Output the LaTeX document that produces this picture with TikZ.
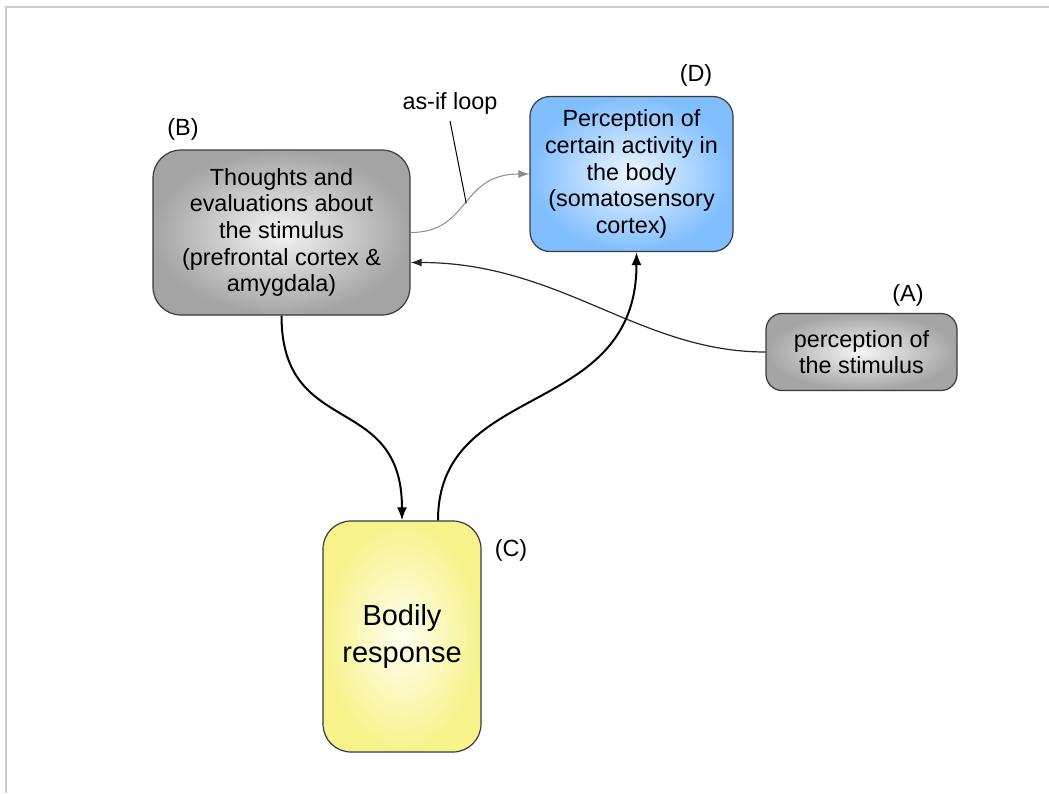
\documentclass[tikz,border=0pt]{standalone}
\usepackage{fontspec}
\setmainfont{Liberation Sans}
\usepackage{xcolor}
\usetikzlibrary{arrows.meta, positioning}
\definecolor{boxline}{HTML}{3A3A3A}
\definecolor{greyin}{HTML}{F4F4F4}
\definecolor{greyout}{HTML}{A4A4A4}
\definecolor{bluein}{HTML}{EEF6FF}
\definecolor{blueout}{HTML}{80BEFF}
\definecolor{yellowin}{HTML}{FFFFF2}
\definecolor{yellowout}{HTML}{F7F28A}
\definecolor{frame}{HTML}{CCCCCC}
\tikzstyle{greybox} = [
rectangle,
rounded corners=14pt,
draw=boxline,
line width=0.6pt,
inner color=greyin,
outer color=greyout,
align=center,
inner sep=0pt,
font=\fontsize{11.7}{13.3}\selectfont
]
\tikzstyle{bluebox} = [
greybox,
rounded corners=10pt,
inner color=bluein,
outer color=blueout
]
\tikzstyle{yellowbox} = [
greybox,
inner color=yellowin,
outer color=yellowout,
font=\fontsize{14.5}{18.5}\selectfont
]
\tikzstyle{tag} = [
font=\fontsize{11.7}{13.3}\selectfont
]
\tikzstyle{arrow} = [
line width=1pt,
-{Latex[length=6.5pt,width=5pt]},
draw=black
]
\tikzstyle{thinarrow} = [
line width=0.6pt,
-{Latex[length=5.5pt,width=4pt]},
draw=black!85
]
\tikzstyle{looparrow} = [
line width=0.5pt,
-{Latex[length=5.5pt,width=4pt]},
draw=black!45
]
\tikzstyle{pointer} = [
line width=0.5pt,
draw=black
]
\tikzstyle{frameline} = [
line width=1pt,
draw=frame
]

\begin{document}
\begin{tikzpicture}[x=0.5pt, y=-0.5pt]
			\useasboundingbox (0,0) rectangle (1049,793);
			\draw [frameline] (6,793) -- (6,7) -- (1049,7);
			
			\node (nB) [greybox, minimum width=128.5pt, minimum height=82.5pt] at (281.5,232.5) {Thoughts and\\evaluations about\\the stimulus\\(prefrontal cortex \&\\amygdala)};
			
			\node (nD) [bluebox, minimum width=101.5pt, minimum height=77.5pt] at (631.5,174) {Perception of\\certain activity in\\the body\\(somatosensory\\cortex)};
			
			\node (nA) [greybox, rounded corners=8pt, minimum width=95.5pt, minimum height=38.5pt] at (861.5,352) {perception of\\the stimulus};
			
			\node (nC) [yellowbox, minimum width=79pt, minimum height=115.5pt] at (402,636.5) {Bodily\\response};
			
			\node (tagA) [tag] at (908,295) {(A)};
			\node (tagB) [tag] at (183,129) {(B)};
			\node (tagC) [tag] at (511,550) {(C)};
			\node (tagD) [tag] at (696,75) {(D)};
			\node (loopLbl) [tag] at (450,103) {as-if loop};
			
			\draw [thinarrow] (nA.west) .. controls +(-126,0) and +(150,0) .. ([yshift=-15pt]nB.east);
			\draw [arrow] (nB.south) .. controls +(0,124) and +(0,-130) .. (nC.north);
			\draw [arrow] ([xshift=18pt]nC.north) .. controls +(0,-141) and +(0,168) .. ([xshift=2.5pt]nD.south);
			\draw [looparrow] (nB.east) .. controls +(60,0) and +(-70,0) .. coordinate[pos=0.5] (asifPt) (nD.west);
			\draw [pointer] (loopLbl.south) -- (asifPt);
			
		\end{tikzpicture}
\end{document}
